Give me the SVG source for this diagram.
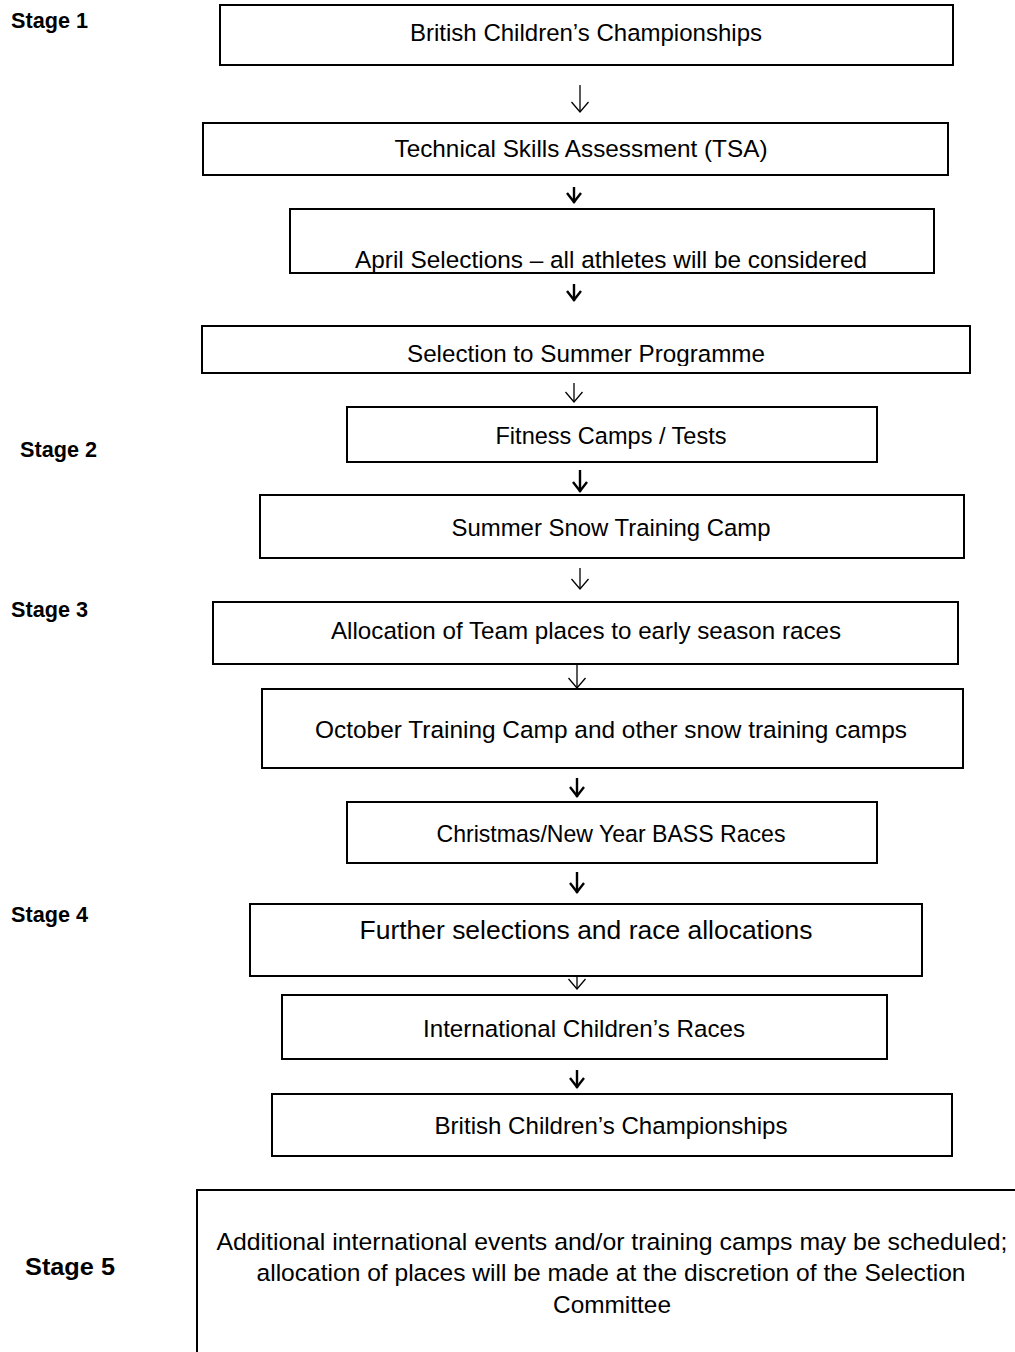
<svg xmlns="http://www.w3.org/2000/svg" width="1015" height="1352" viewBox="0 0 1015 1352">
<style>
.box{fill:#fff;stroke:#000;stroke-width:2}
.t{font-family:"Liberation Sans",Arial,sans-serif;font-size:24.5px;fill:#000;text-anchor:middle}
.st{font-family:"Liberation Sans",Arial,sans-serif;font-size:22.5px;font-weight:bold;fill:#000}
.c{fill:none;stroke:#000}
.thin{stroke-width:1.3}
.bold{stroke-width:2.4}
</style>
<defs>
<marker id="ah" viewBox="-2 -10 14 20" refX="10" refY="0" markerWidth="14" markerHeight="20" markerUnits="userSpaceOnUse" orient="auto">
<path d="M0,-8.5 L10,0 L0,8.5" fill="none" stroke="#000" stroke-width="1.3"/>
</marker>
<marker id="ahb" viewBox="-2 -10 14 20" refX="10" refY="0" markerWidth="14" markerHeight="20" markerUnits="userSpaceOnUse" orient="auto">
<path d="M0,-7 L9,0 L0,7" fill="none" stroke="#000" stroke-width="2.4"/>
</marker>
<clipPath id="clip4"><rect x="202" y="326" width="768" height="40"/></clipPath>
</defs>

<g id="stages">
<text class="st" x="11" y="28" textLength="77" lengthAdjust="spacingAndGlyphs">Stage 1</text>
<text class="st" x="20" y="457" textLength="77" lengthAdjust="spacingAndGlyphs">Stage 2</text>
<text class="st" x="11" y="617" textLength="77" lengthAdjust="spacingAndGlyphs">Stage 3</text>
<text class="st" x="11" y="922" textLength="77" lengthAdjust="spacingAndGlyphs">Stage 4</text>
<text class="st" x="25" y="1275" style="font-size:24px" textLength="90" lengthAdjust="spacingAndGlyphs">Stage 5</text>
</g>

<g id="connectors">
<path class="c thin" d="M580,85 V112" marker-end="url(#ah)"/>
<path class="c bold" d="M574,187 V203" marker-end="url(#ahb)"/>
<path class="c bold" d="M574,284 V301" marker-end="url(#ahb)"/>
<path class="c thin" d="M574,383 V402" marker-end="url(#ah)"/>
<path class="c bold" d="M580,470 V492" marker-end="url(#ahb)"/>
<path class="c thin" d="M580,568 V589" marker-end="url(#ah)"/>
<path class="c thin" d="M577,665 V688" marker-end="url(#ah)"/>
<path class="c bold" d="M577,778 V797" marker-end="url(#ahb)"/>
<path class="c bold" d="M577,872 V893" marker-end="url(#ahb)"/>
<path class="c thin" d="M577,976 V989" marker-end="url(#ah)"/>
<path class="c bold" d="M577,1070 V1088" marker-end="url(#ahb)"/>
</g>

<g id="n1"><rect class="box" x="220" y="5" width="733" height="60"/>
<text class="t" x="586" y="41" textLength="352" lengthAdjust="spacingAndGlyphs">British Children’s Championships</text></g>
<g id="n2"><rect class="box" x="203" y="123" width="745" height="52"/>
<text class="t" x="581" y="157" textLength="373" lengthAdjust="spacingAndGlyphs">Technical Skills Assessment  (TSA)</text></g>
<g id="n3"><rect class="box" x="290" y="209" width="644" height="64"/>
<text class="t" x="611" y="268" textLength="512" lengthAdjust="spacingAndGlyphs">April Selections – all athletes will be considered</text></g>
<g id="n4"><rect class="box" x="202" y="326" width="768" height="47"/>
<text class="t" x="586" y="362" clip-path="url(#clip4)" textLength="358" lengthAdjust="spacingAndGlyphs">Selection to Summer Programme</text></g>
<g id="n5"><rect class="box" x="347" y="407" width="530" height="55"/>
<text class="t" x="611" y="444" textLength="231" lengthAdjust="spacingAndGlyphs">Fitness Camps / Tests</text></g>
<g id="n6"><rect class="box" x="260" y="495" width="704" height="63"/>
<text class="t" x="611" y="536" textLength="319" lengthAdjust="spacingAndGlyphs">Summer Snow Training Camp</text></g>
<g id="n7"><rect class="box" x="213" y="602" width="745" height="62"/>
<text class="t" x="586" y="639" textLength="510" lengthAdjust="spacingAndGlyphs">Allocation of Team places to early season races</text></g>
<g id="n8"><rect class="box" x="262" y="689" width="701" height="79"/>
<text class="t" x="611" y="738" textLength="592" lengthAdjust="spacingAndGlyphs">October Training Camp and other snow training camps</text></g>
<g id="n9"><rect class="box" x="347" y="802" width="530" height="61"/>
<text class="t" x="611" y="842" textLength="349" lengthAdjust="spacingAndGlyphs">Christmas/New Year BASS Races</text></g>
<g id="n10"><rect class="box" x="250" y="904" width="672" height="72"/>
<text class="t" x="586" y="939" style="font-size:26.5px" textLength="453" lengthAdjust="spacingAndGlyphs">Further selections and race allocations</text></g>
<g id="n11"><rect class="box" x="282" y="995" width="605" height="64"/>
<text class="t" x="584" y="1037" textLength="322" lengthAdjust="spacingAndGlyphs">International Children’s Races</text></g>
<g id="n12"><rect class="box" x="272" y="1094" width="680" height="62"/>
<text class="t" x="611" y="1134" textLength="353" lengthAdjust="spacingAndGlyphs">British Children’s Championships</text></g>
<g id="n13"><path d="M1016,1190 H197 V1353" fill="none" stroke="#000" stroke-width="2"/>
<text class="t" x="612" y="1250" textLength="791" lengthAdjust="spacingAndGlyphs">Additional international events and/or training camps may be scheduled;</text>
<text class="t" x="611" y="1281" textLength="709" lengthAdjust="spacingAndGlyphs">allocation of places will be made at the discretion of the Selection</text>
<text class="t" x="612" y="1313" textLength="118" lengthAdjust="spacingAndGlyphs">Committee</text></g>
</svg>
